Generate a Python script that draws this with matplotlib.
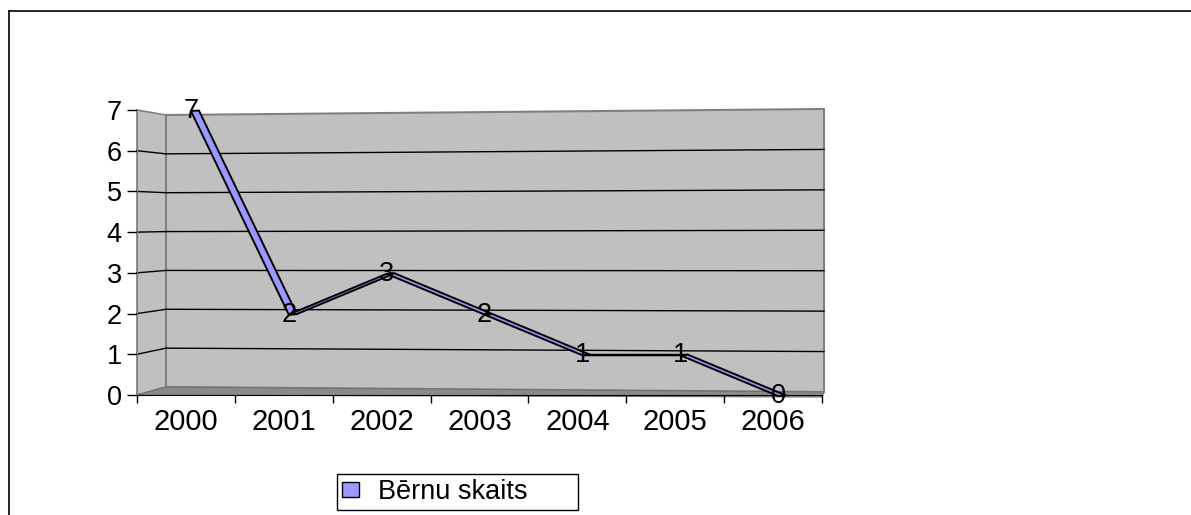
import matplotlib.pyplot as plt
from matplotlib.patches import Polygon, Patch
from matplotlib.lines import Line2D
from matplotlib.transforms import ScaledTranslation

years = ['2000', '2001', '2002', '2003', '2004', '2005', '2006']
values = [7, 2, 3, 2, 1, 1, 0]
y_ticks = [0, 1, 2, 3, 4, 5, 6, 7]
series_name = 'Bērnu skaits'

W, H = 1191, 515
plt.rcParams['font.family'] = ['Liberation Sans', 'DejaVu Sans']

fig = plt.figure(figsize=(W / 100, H / 100), dpi=100)


def px(x, y):
    # pikseļi (no augšējā kreisā stūra) -> figūras daļas
    return (x / W, 1 - y / H)


def fig_poly(pts, **kw):
    p = Polygon([px(*q) for q in pts], closed=True, transform=fig.transFigure, **kw)
    fig.add_artist(p)


def fig_line(p0, p1, **kw):
    a, b = px(*p0), px(*p1)
    fig.add_artist(Line2D([a[0], b[0]], [a[1], b[1]], transform=fig.transFigure, **kw))


# ārējais rāmis
fig_line((9, 11), (W, 11), color='black', lw=1.2, zorder=5)
fig_line((9, 11), (9, H), color='black', lw=1.2, zorder=5)

# 3D sienas
front_l, front_b, front_t = 137, 395, 110
back_l, back_r = 166, 824
back_bl, back_tl, back_br, back_tr = 387, 115, 392, 109
n = len(y_ticks) - 1

fig_poly([(front_l, front_b), (front_l, front_t), (back_l, back_tl), (back_l, back_bl)],
         facecolor='#c0c0c0', edgecolor='#808080', lw=1.2, zorder=0.2)
fig_poly([(back_l, back_bl), (back_l, back_tl), (back_r, back_tr), (back_r, back_br)],
         facecolor='#c0c0c0', edgecolor='#808080', lw=1.5, zorder=0.2)
fig_poly([(front_l, front_b), (822, 397), (back_r, back_br), (back_l, back_bl)],
         facecolor='#8a8a8a', edgecolor='#707070', lw=0.8, zorder=0.3)

for v in y_ticks[1:-1]:
    yl = back_bl - v * (back_bl - back_tl) / n
    yr = back_br - v * (back_br - back_tr) / n
    yf = front_b - v * (front_b - front_t) / n
    fig_line((back_l, yl), (back_r, yr), color='black', lw=1.0, zorder=0.4)
    fig_line((front_l, yf), (back_l, yl), color='black', lw=1.0, zorder=0.4)

ax = fig.add_axes([front_l / W, 1 - front_b / H, (822 - front_l) / W, (front_b - front_t) / H])
ax.set_zorder(1)
ax.patch.set_visible(False)
ax.set_xlim(-0.5, len(years) - 0.5)
ax.set_ylim(0, 7)

for s in ['top', 'right']:
    ax.spines[s].set_visible(False)
ax.spines['left'].set_color('#808080')
ax.spines['bottom'].set_color('black')

ax.set_yticks(y_ticks)
ax.set_yticklabels([str(t) for t in y_ticks], fontsize=19.5)
ax.tick_params(axis='y', length=7, width=1, color='black', pad=4)

xs = list(range(len(years)))
ax.set_xticks([i - 0.5 for i in range(len(years) + 1)])
ax.set_xticklabels([])
ax.tick_params(axis='x', which='major', length=6, width=1, color='black')
ax.set_xticks(xs, minor=True)
ax.set_xticklabels(years, minor=True, fontsize=21)
ax.tick_params(axis='x', which='minor', length=0, pad=9)

# līnija kā 3D lente
x_pp = (822 - front_l) / len(years)
y_pp = (front_b - front_t) / 7
ddx, ddy = 8 / x_pp, 0.5 / y_pp
shift = ax.transData + ScaledTranslation(0.05, -0.01, fig.dpi_scale_trans)
for i in range(len(values) - 1):
    x0, x1 = xs[i], xs[i + 1]
    y0, y1 = values[i], values[i + 1]
    seg = Polygon([(x0, y0), (x1, y1), (x1 + ddx, y1 + ddy), (x0 + ddx, y0 + ddy)],
                  closed=True, facecolor='#9999ff', edgecolor='black', lw=1.4,
                  transform=shift, clip_on=False, zorder=3)
    ax.add_patch(seg)

for x, v in zip(xs, values):
    ax.text(x, v, str(v), ha='center', va='center', fontsize=19.5,
            transform=shift, clip_on=False, zorder=4)

fig.legend(handles=[Patch(facecolor='#9999ff', edgecolor='black', label=series_name)],
           loc='center', mode='expand',
           bbox_to_anchor=(337 / W, 1 - 512 / H, 241 / W, 40 / H),
           fontsize=19.5, frameon=True, fancybox=False, edgecolor='black',
           framealpha=1, handlelength=0.6, handleheight=0.5, handletextpad=0.7,
           borderpad=0.2, borderaxespad=0)
fig.legends[0].get_frame().set_linewidth(1.0)

fig.savefig('out.png', dpi=100)
